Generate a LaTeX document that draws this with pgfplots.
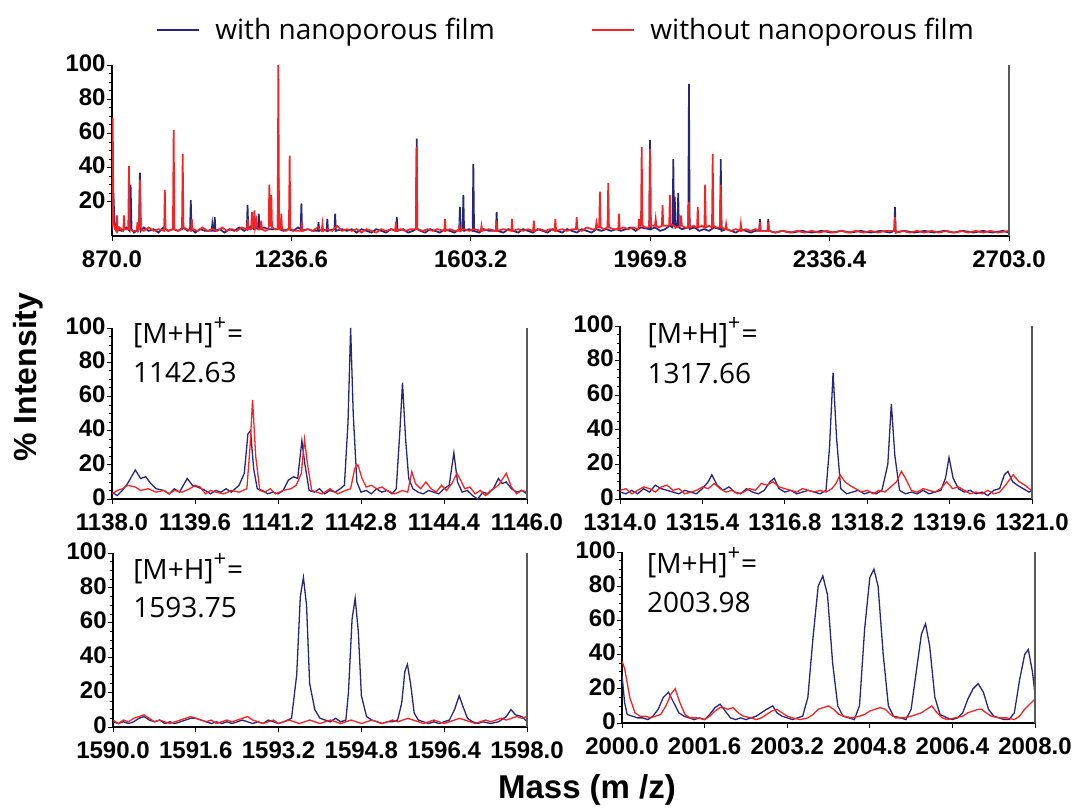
\documentclass[border=0pt]{standalone}
\usepackage{fontspec}
\setmainfont{Liberation Sans}
\newfontfamily\osans{Open Sans}
\usepackage{pgfplots}
\usepackage{pgfplotstable}
\pgfplotsset{compat=1.18}
\definecolor{nblue}{RGB}{40,38,120}
\definecolor{nred}{RGB}{245,35,35}
\definecolor{legblue}{RGB}{85,60,150}
\newcommand\tickfont{\fontsize{12}{14}\selectfont\bfseries}
\newcommand\annfont{\osans\fontsize{14}{16}\selectfont}
\newcommand\mh{[M+H]\raisebox{6.5pt}{\fontsize{11}{11}\selectfont+}\kern0.5pt=}

%% ---- overview spectrum 870-2703 ----
\pgfplotstableread{
x y
870 3
873 25
875 8
880 4
890 3
900 5
906 3
908 30
910 4
915 2
925 4
927 37
929 3
935 5
945 3
955 4
965 2
975 5
985 3
995 4
1005 3
1015 5
1025 3
1029.5 4
1031 21
1032.5 4
1040 2
1050 4
1060 3
1073.5 3
1075 7
1076.5 3
1078.5 3
1080 11
1081.5 3
1090 4
1100 2
1110 4
1120 3
1130 5
1140 3
1145.5 4
1147 18
1148.5 4
1155 6
1160 4
1168.5 5
1170 13
1171.5 4
1180 5
1190 4
1208.5 4
1210 35
1211.5 4
1220 3
1230 4
1240 3
1250 5
1255.5 4
1257 19
1258.5 3
1270 4
1280 3
1290.5 3
1292 8
1293.5 3
1300 4
1308.5 3
1310 10
1311.5 3
1324.5 4
1326 13
1327.5 3
1340 4
1350 3
1360 4
1370 2
1380 4
1390 3
1400 2
1410 4
1420 3
1430 2
1440 4
1450.5 3
1452 11
1453.5 3
1465 4
1475 2
1485 3
1491 4
1492.6 57
1494 4
1500 3
1510 2
1520 4
1530 3
1540 2
1550 4
1560 3
1570 2
1579.5 4
1581 17
1582.5 3
1586.5 4
1588 24
1589.5 3
1600 4
1606.9 3
1608.4 42
1609.9 3
1620 2
1630 4
1640 3
1654.5 3
1656 14
1657.5 3
1670 2
1680 4
1690 3
1700 2
1710 4
1720 3
1730 2
1740 4
1750 3
1760 2
1770 4
1780 3
1790 2
1800 4
1810 3
1820 2
1830 4
1840 3
1850 2
1860 4
1870 3
1880 4
1890 3
1900 4
1910 3
1920 4
1930 5
1940 3
1950 5
1967.9 4
1969.4 56
1970.9 4
1980 5
1990 3
2000 4
2010 6
2015.5 5
2017 45
2018.5 6
2020 23
2021.5 5
2025.5 6
2027 25
2028.5 5
2035 4
2047.5 5
2049 89
2050.5 4
2060 5
2070 3
2080 4
2090 3
2100 5
2112.5 4
2114 45
2115.5 3
2125 4
2135 3
2145 2
2155 4
2165 3
2175 2
2185 3
2192.5 3
2194 10
2195.5 3
2209.5 3
2211 10
2212.5 3
2225 2
2240 3
2260 2
2280 3
2300 2
2320 3
2340 2
2360 3
2380 2
2400 3
2420 2
2440 3
2460 2
2468.5 3
2470 17
2471.5 2
2490 3
2510 2
2530 3
2550 2
2570 3
2590 2
2610 3
2630 2
2650 3
2670 2
2690 3
2703 2
}\fullblue

\pgfplotstableread{
x y
870 5
871.5 69
873 8
876 4
878.5 3
880 12
881.5 3
885 5
893 3
894.5 12
896 4
903.2 4
904.7 41
906.2 4
912 3
920.5 3
922 8
923.5 3
925.5 4
927 33
928.5 4
935 3
945 5
955 3
965 4
976.5 3
978 27
979.5 4
985 3
994.5 4
996 62
997.5 4
1005 3
1013 4
1014.5 48
1016 5
1023 4
1031.5 3
1033 10
1034.5 4
1045 3
1055 5
1065 3
1075 4
1085 3
1095 5
1105 3
1115 4
1125 3
1135 5
1146 4
1147.5 10
1149 4
1154.5 4
1156 14
1157.5 5
1159.5 5
1161 15
1162.5 5
1165 9
1167 4
1173.5 4
1175 9
1176.5 4
1183 3
1190 4
1191.5 30
1193 6
1194.3 6
1195.6 24
1197 5
1203 4
1208.4 4
1209.9 100
1211.4 4
1214.5 4
1216 13
1217.5 4
1225 3
1231.5 4
1233 47
1234.5 4
1245 3
1256.5 3
1258 8
1259.5 3
1270 4
1280 3
1290 5
1298.5 3
1300 7
1301.5 3
1310 4
1320 3
1330 6
1340 3
1350 4
1360 3
1370 4
1380 2
1390 4
1400 3
1410 2
1420 4
1430 3
1440 4
1448.5 3
1450 8
1451.5 3
1460 4
1470 3
1480 4
1491 4
1492.6 52
1494 4
1505 3
1515 4
1525 3
1535 4
1549 3
1550.5 10
1552 3
1560 4
1570 3
1578.5 3
1580 6
1581.5 3
1590 4
1600 3
1610 4
1623.5 3
1625 6
1626.5 3
1640 4
1654.5 3
1656 9
1657.5 3
1670 4
1685.9 3
1687.4 10
1688.9 3
1700 4
1710 3
1720 4
1730.5 3
1732 9
1733.5 3
1745 4
1755 3
1765 4
1774.5 3
1776 10
1777.5 3
1790 4
1800 3
1810 4
1818 4
1819.6 11
1821 4
1830 3
1840 5
1850 4
1858 4
1860 8
1862 5
1865.5 5
1867 26
1868.5 5
1875 4
1882.5 5
1884 31
1885.5 5
1895 4
1904.5 4
1906 13
1907.5 4
1915 5
1925 4
1935 5
1945.5 4
1947 10
1948.5 6
1950.9 6
1952.4 52
1953.9 6
1960 5
1967.9 5
1969.4 51
1970.9 6
1979.5 6
1981 10
1982.5 6
1988 5
1993.5 6
1995 18
1996.5 6
2003 6
2008.5 6
2010 24
2011.5 7
2018 6
2024 5
2031.5 6
2033 12
2034.5 6
2040 5
2047.5 5
2049 20
2050.5 5
2058 6
2065.5 5
2067 17
2068.5 5
2075 6
2080.5 5
2082 30
2083.5 5
2090 6
2096 5
2097.5 48
2099 6
2105 5
2112.5 5
2114 30
2115.5 5
2123.5 4
2125 7
2126.5 4
2135 3
2145 4
2153.5 3
2155 7
2156.5 3
2165 4
2175 3
2185 4
2192.5 3
2194 8
2195.5 3
2209.5 3
2211 8
2212.5 3
2225 2
2240 3
2255 2
2270 3
2285 2
2300 3
2315 2
2330 3
2345 2
2360 3
2375 2
2390 3
2405 2
2420 3
2435 2
2450 3
2468.5 3
2470 11
2471.5 2
2485 3
2500 2
2515 3
2530 2
2545 3
2560 2
2575 3
2590 2
2605 3
2620 2
2635 3
2650 2
2665 3
2680 2
2703 3
}\fullred

%% ---- [M+H]+ = 1142.63 ----
\pgfplotstableread{
x y
1138.0 4
1138.1 2
1138.2 5
1138.3 9
1138.45 17
1138.55 12
1138.65 13
1138.75 9
1138.85 6
1139.0 5
1139.1 3
1139.2 6
1139.3 4
1139.45 12
1139.55 8
1139.65 7
1139.8 5
1139.9 3
1140.0 5
1140.1 4
1140.2 6
1140.3 4
1140.45 8
1140.55 15
1140.62 38
1140.67 40
1140.73 18
1140.8 6
1140.9 5
1141.0 3
1141.1 4
1141.2 3
1141.3 5
1141.4 11
1141.5 13
1141.58 12
1141.66 34
1141.72 20
1141.8 5
1141.9 4
1142.0 6
1142.1 3
1142.2 5
1142.3 4
1142.4 6
1142.48 8
1142.55 45
1142.6 100
1142.65 50
1142.72 10
1142.8 4
1142.9 5
1143.0 3
1143.1 6
1143.2 4
1143.3 5
1143.4 3
1143.48 6
1143.55 40
1143.6 68
1143.66 35
1143.72 12
1143.8 6
1143.9 4
1144.0 3
1144.1 5
1144.2 4
1144.3 3
1144.4 6
1144.5 8
1144.59 27
1144.66 10
1144.75 4
1144.85 5
1144.95 2
1145.05 0
1145.15 4
1145.25 3
1145.35 6
1145.45 12
1145.52 9
1145.6 10
1145.7 6
1145.8 4
1145.9 5
1146.0 3
}\aBlue

\pgfplotstableread{
x y
1138.0 3
1138.1 5
1138.2 6
1138.3 8
1138.45 7
1138.55 5
1138.7 6
1138.85 4
1139.0 5
1139.1 3
1139.2 5
1139.35 4
1139.5 6
1139.6 8
1139.7 7
1139.8 3
1139.9 5
1140.0 4
1140.15 3
1140.3 5
1140.45 4
1140.6 6
1140.66 30
1140.71 58
1140.77 25
1140.85 5
1140.95 4
1141.05 6
1141.15 3
1141.3 5
1141.45 6
1141.55 8
1141.65 15
1141.71 35
1141.77 20
1141.85 5
1141.95 4
1142.05 3
1142.2 6
1142.35 3
1142.5 5
1142.6 6
1142.68 18
1142.74 20
1142.82 12
1142.9 7
1143.0 8
1143.1 6
1143.2 7
1143.3 5
1143.45 3
1143.6 5
1143.7 4
1143.78 16
1143.85 9
1143.95 6
1144.05 10
1144.15 6
1144.25 4
1144.35 8
1144.45 5
1144.55 9
1144.65 15
1144.72 11
1144.8 6
1144.9 7
1145.0 3
1145.1 5
1145.2 2
1145.3 5
1145.45 8
1145.6 15
1145.7 7
1145.8 3
1145.9 5
1146.0 4
}\aRed

%% ---- [M+H]+ = 1317.66 ----
\pgfplotstableread{
x y
1314.0 4
1314.1 3
1314.2 5
1314.3 3
1314.4 6
1314.5 4
1314.6 8
1314.7 6
1314.8 5
1314.9 4
1315.0 3
1315.1 5
1315.2 4
1315.3 3
1315.4 6
1315.5 10
1315.56 14
1315.65 8
1315.75 5
1315.85 7
1315.95 4
1316.05 3
1316.15 6
1316.25 4
1316.35 3
1316.45 5
1316.55 10
1316.62 12
1316.7 6
1316.8 4
1316.9 5
1317.0 3
1317.1 4
1317.2 5
1317.3 4
1317.4 3
1317.5 5
1317.56 30
1317.62 73
1317.68 35
1317.75 6
1317.85 3
1317.95 4
1318.05 5
1318.15 3
1318.25 4
1318.35 3
1318.45 5
1318.55 20
1318.61 55
1318.67 25
1318.75 5
1318.85 3
1318.95 4
1319.05 3
1319.15 5
1319.25 3
1319.35 4
1319.45 5
1319.53 12
1319.59 24
1319.66 12
1319.75 6
1319.85 4
1319.95 5
1320.05 3
1320.15 4
1320.25 2
1320.35 5
1320.45 6
1320.53 14
1320.59 16
1320.67 10
1320.75 8
1320.85 6
1320.95 4
1321.0 5
}\bBlue

\pgfplotstableread{
x y
1314.0 5
1314.1 6
1314.2 3
1314.3 5
1314.4 7
1314.5 6
1314.6 4
1314.7 7
1314.8 8
1314.9 5
1315.0 6
1315.1 3
1315.2 4
1315.3 5
1315.4 7
1315.5 6
1315.6 9
1315.7 6
1315.8 4
1315.9 5
1316.0 3
1316.1 4
1316.2 6
1316.3 5
1316.4 9
1316.5 8
1316.6 10
1316.7 7
1316.8 6
1316.9 5
1317.0 4
1317.1 6
1317.2 5
1317.3 4
1317.4 5
1317.5 4
1317.6 6
1317.67 9
1317.74 14
1317.82 10
1317.9 8
1318.0 6
1318.1 4
1318.2 5
1318.3 3
1318.4 5
1318.5 4
1318.6 7
1318.7 10
1318.78 16
1318.85 12
1318.95 5
1319.05 4
1319.15 6
1319.25 5
1319.35 4
1319.45 6
1319.55 10
1319.65 6
1319.75 7
1319.85 5
1319.95 3
1320.05 4
1320.15 3
1320.25 5
1320.35 3
1320.45 4
1320.55 8
1320.68 14
1320.78 10
1320.88 8
1320.95 6
1321.0 5
}\bRed

%% ---- [M+H]+ = 1593.75 ----
\pgfplotstableread{
x y
1590.0 3
1590.1 2
1590.2 3
1590.3 2
1590.4 3
1590.5 5
1590.6 6
1590.7 4
1590.8 3
1590.9 4
1591.0 2
1591.1 3
1591.2 2
1591.3 3
1591.4 4
1591.5 5
1591.6 5
1591.7 4
1591.8 3
1591.9 2
1592.0 3
1592.1 2
1592.2 3
1592.3 2
1592.4 3
1592.5 4
1592.6 3
1592.7 2
1592.8 3
1592.9 2
1593.0 4
1593.1 3
1593.2 2
1593.3 3
1593.45 5
1593.55 30
1593.62 75
1593.68 86
1593.74 70
1593.8 25
1593.9 10
1594.0 5
1594.1 4
1594.2 3
1594.3 5
1594.4 3
1594.5 4
1594.55 20
1594.62 62
1594.68 74
1594.74 55
1594.8 18
1594.9 6
1595.0 4
1595.1 3
1595.2 2
1595.3 3
1595.4 3
1595.5 4
1595.58 14
1595.64 32
1595.69 36
1595.75 25
1595.82 8
1595.9 4
1596.0 3
1596.1 2
1596.2 3
1596.3 2
1596.4 3
1596.5 4
1596.6 10
1596.69 18
1596.76 12
1596.85 5
1596.95 3
1597.05 2
1597.15 3
1597.3 2
1597.45 3
1597.6 6
1597.69 10
1597.78 7
1597.9 6
1598.0 3
}\cBlue

\pgfplotstableread{
x y
1590.0 4
1590.1 2
1590.2 4
1590.3 3
1590.4 5
1590.5 6
1590.6 7
1590.7 5
1590.8 3
1590.9 4
1591.0 3
1591.1 2
1591.2 3
1591.3 4
1591.4 5
1591.5 6
1591.6 5
1591.7 4
1591.8 3
1591.9 4
1592.0 2
1592.1 3
1592.2 4
1592.3 3
1592.4 4
1592.5 5
1592.6 6
1592.7 4
1592.8 3
1592.9 2
1593.0 3
1593.1 4
1593.2 2
1593.3 3
1593.4 4
1593.5 3
1593.6 2
1593.7 3
1593.8 4
1593.9 3
1594.0 2
1594.1 3
1594.2 4
1594.3 3
1594.4 2
1594.5 3
1594.6 4
1594.7 3
1594.8 2
1594.9 3
1595.0 4
1595.1 3
1595.2 2
1595.3 3
1595.4 4
1595.5 3
1595.6 4
1595.7 5
1595.8 4
1595.9 3
1596.0 2
1596.1 3
1596.2 4
1596.3 3
1596.4 2
1596.5 3
1596.6 4
1596.7 5
1596.8 4
1596.9 3
1597.0 2
1597.1 3
1597.2 4
1597.3 3
1597.4 4
1597.5 5
1597.6 4
1597.7 5
1597.8 6
1597.9 5
1598.0 6
}\cRed

%% ---- [M+H]+ = 2003.98 ----
\pgfplotstableread{
x y
2000.0 28
2000.05 12
2000.1 5
2000.2 4
2000.3 3
2000.4 3
2000.5 2
2000.6 4
2000.7 8
2000.8 15
2000.9 18
2001.0 12
2001.1 6
2001.2 4
2001.3 3
2001.4 2
2001.5 3
2001.6 2
2001.7 5
2001.8 9
2001.9 11
2002.0 7
2002.1 3
2002.2 2
2002.3 3
2002.4 2
2002.5 3
2002.6 4
2002.7 6
2002.8 8
2002.92 10
2003.0 6
2003.1 4
2003.2 3
2003.3 2
2003.4 3
2003.5 4
2003.6 15
2003.7 50
2003.8 80
2003.89 86
2003.98 75
2004.08 35
2004.18 10
2004.28 4
2004.4 3
2004.5 2
2004.6 10
2004.7 55
2004.8 85
2004.88 90
2004.96 80
2005.06 40
2005.16 10
2005.26 4
2005.4 3
2005.5 2
2005.6 8
2005.7 30
2005.8 52
2005.88 58
2005.96 45
2006.06 15
2006.16 5
2006.3 3
2006.4 2
2006.5 3
2006.6 6
2006.7 14
2006.8 20
2006.9 23
2007.0 18
2007.1 8
2007.2 4
2007.3 3
2007.4 2
2007.5 2
2007.6 6
2007.7 25
2007.8 40
2007.87 43
2007.95 30
2008.0 17
}\dBlue

\pgfplotstableread{
x y
2000.0 36
2000.05 32
2000.15 15
2000.25 6
2000.35 4
2000.45 4
2000.55 3
2000.65 4
2000.75 5
2000.85 10
2000.95 17
2001.03 20
2001.12 12
2001.22 5
2001.32 3
2001.45 3
2001.6 2
2001.7 4
2001.8 7
2001.9 9
2001.97 9
2002.05 8
2002.15 9
2002.25 6
2002.35 4
2002.5 3
2002.6 2
2002.7 3
2002.8 5
2002.9 7
2003.0 8
2003.1 6
2003.2 4
2003.3 3
2003.45 2
2003.6 3
2003.7 5
2003.8 8
2003.9 9
2004.0 10
2004.1 8
2004.2 5
2004.3 4
2004.45 3
2004.6 4
2004.7 5
2004.8 7
2004.9 8
2005.0 9
2005.1 8
2005.2 5
2005.3 3
2005.45 3
2005.6 4
2005.7 5
2005.8 6
2005.9 8
2006.0 10
2006.1 6
2006.2 3
2006.3 2
2006.45 3
2006.6 4
2006.7 6
2006.8 7
2006.9 8
2006.97 8
2007.05 6
2007.15 4
2007.3 3
2007.45 3
2007.6 2
2007.7 4
2007.8 8
2007.9 11
2008.0 14
}\dRed

\pgfplotsset{
  spec/.style={
    scale only axis,
    anchor=south west,
    axis x line*=bottom,
    axis y line*=left,
    axis line style={black, line width=0.6pt},
    ymin=0, ymax=100,
    ytick={0,20,40,60,80,100},
    minor y tick num=3,
    tick align=outside,
    major tick length=2.5pt,
    minor tick length=1.5pt,
    tick style={black, line width=0.4pt},
    tick label style={font=\tickfont},
    yticklabel style={inner xsep=0.5pt, yshift=1pt},
    xticklabel style={yshift=-1.5pt},
    /pgf/number format/assume math mode=true,
    xticklabel style={/pgf/number format/.cd, fixed, fixed zerofill, precision=1, 1000 sep={}},
    clip mode=individual,
  },
  specline/.style={line width=0.65pt},
}

\begin{document}
\begin{tikzpicture}
\useasboundingbox (0,0) rectangle (542.5pt,404.5pt);

%% overview
\begin{axis}[spec,
  at={(56pt,286.5pt)}, width=448.5pt, height=85.5pt,
  xmin=870, xmax=2703,
  xtick={870,1236.6,1603.2,1969.8,2336.4,2703},
  ytick={20,40,60,80,100},
  legend columns=2,
  legend style={at={(0.507,1.205)}, anchor=center, draw=none, fill=none,
    font=\annfont, column sep=0pt,
    /tikz/every odd column/.append style={column sep=6pt},
    /tikz/every even column/.append style={column sep=46pt}},
  legend image code/.code={\draw[line width=0.8pt,#1] (0pt,0pt) -- (21pt,0pt);},
]
\addplot[nblue, line width=0.85pt] table {\fullblue};
\addlegendentry{with nanoporous film}
\addplot[nred, line width=0.85pt] table {\fullred};
\addlegendentry{without nanoporous film}
\draw[gray!70!black, line width=0.8pt] (rel axis cs:1,0) -- (rel axis cs:1,1);
\end{axis}

%% 1142.63
\begin{axis}[spec,
  at={(56pt,155pt)}, width=207.5pt, height=85.5pt,
  xmin=1138, xmax=1146,
  xtick={1138,1139.6,1141.2,1142.8,1144.4,1146},
]
\addplot[specline, nblue] table {\aBlue};
\addplot[specline, nred] table {\aRed};
\draw[gray!70!black, line width=0.8pt] (rel axis cs:1,0) -- (rel axis cs:1,1);
\node[anchor=base west, font=\annfont, inner sep=0pt] at (rel axis cs:0.05,0.912) {\mh};
\node[anchor=base west, font=\annfont, inner sep=0pt] at (rel axis cs:0.05,0.684) {1142.63};
\end{axis}

%% 1317.66
\begin{axis}[spec,
  at={(310pt,155pt)}, width=206pt, height=86.5pt,
  xmin=1314, xmax=1321,
  xtick={1314,1315.4,1316.8,1318.2,1319.6,1321},
]
\addplot[specline, nblue] table {\bBlue};
\addplot[specline, nred] table {\bRed};
\draw[gray!70!black, line width=0.8pt] (rel axis cs:1,0) -- (rel axis cs:1,1);
\node[anchor=base west, font=\annfont, inner sep=0pt] at (rel axis cs:0.066,0.90) {\mh};
\node[anchor=base west, font=\annfont, inner sep=0pt] at (rel axis cs:0.066,0.67) {1317.66};
\end{axis}

%% 1593.75
\begin{axis}[spec,
  at={(56.5pt,41pt)}, width=207pt, height=87pt,
  xmin=1590, xmax=1598,
  xtick={1590,1591.6,1593.2,1594.8,1596.4,1598},
]
\addplot[specline, nblue] table {\cBlue};
\addplot[specline, nred] table {\cRed};
\draw[gray!70!black, line width=0.8pt] (rel axis cs:1,0) -- (rel axis cs:1,1);
\node[anchor=base west, font=\annfont, inner sep=0pt] at (rel axis cs:0.048,0.845) {\mh};
\node[anchor=base west, font=\annfont, inner sep=0pt] at (rel axis cs:0.048,0.632) {1593.75};
\end{axis}

%% 2003.98
\begin{axis}[spec,
  at={(311pt,43pt)}, width=206.5pt, height=85.5pt,
  xmin=2000, xmax=2008,
  xtick={2000,2001.6,2003.2,2004.8,2006.4,2008},
]
\addplot[specline, nblue] table {\dBlue};
\addplot[specline, nred] table {\dRed};
\draw[gray!70!black, line width=0.8pt] (rel axis cs:1,0) -- (rel axis cs:1,1);
\node[anchor=base west, font=\annfont, inner sep=0pt] at (rel axis cs:0.06,0.877) {\mh};
\node[anchor=base west, font=\annfont, inner sep=0pt] at (rel axis cs:0.06,0.649) {2003.98};
\end{axis}

\node[rotate=90, font=\fontsize{16}{18}\selectfont\bfseries] at (14pt,216pt) {\% Intensity};
\node[font=\fontsize{16.5}{18}\selectfont\bfseries] at (293.5pt,9.5pt) {Mass (m /z)};
\end{tikzpicture}
\end{document}
